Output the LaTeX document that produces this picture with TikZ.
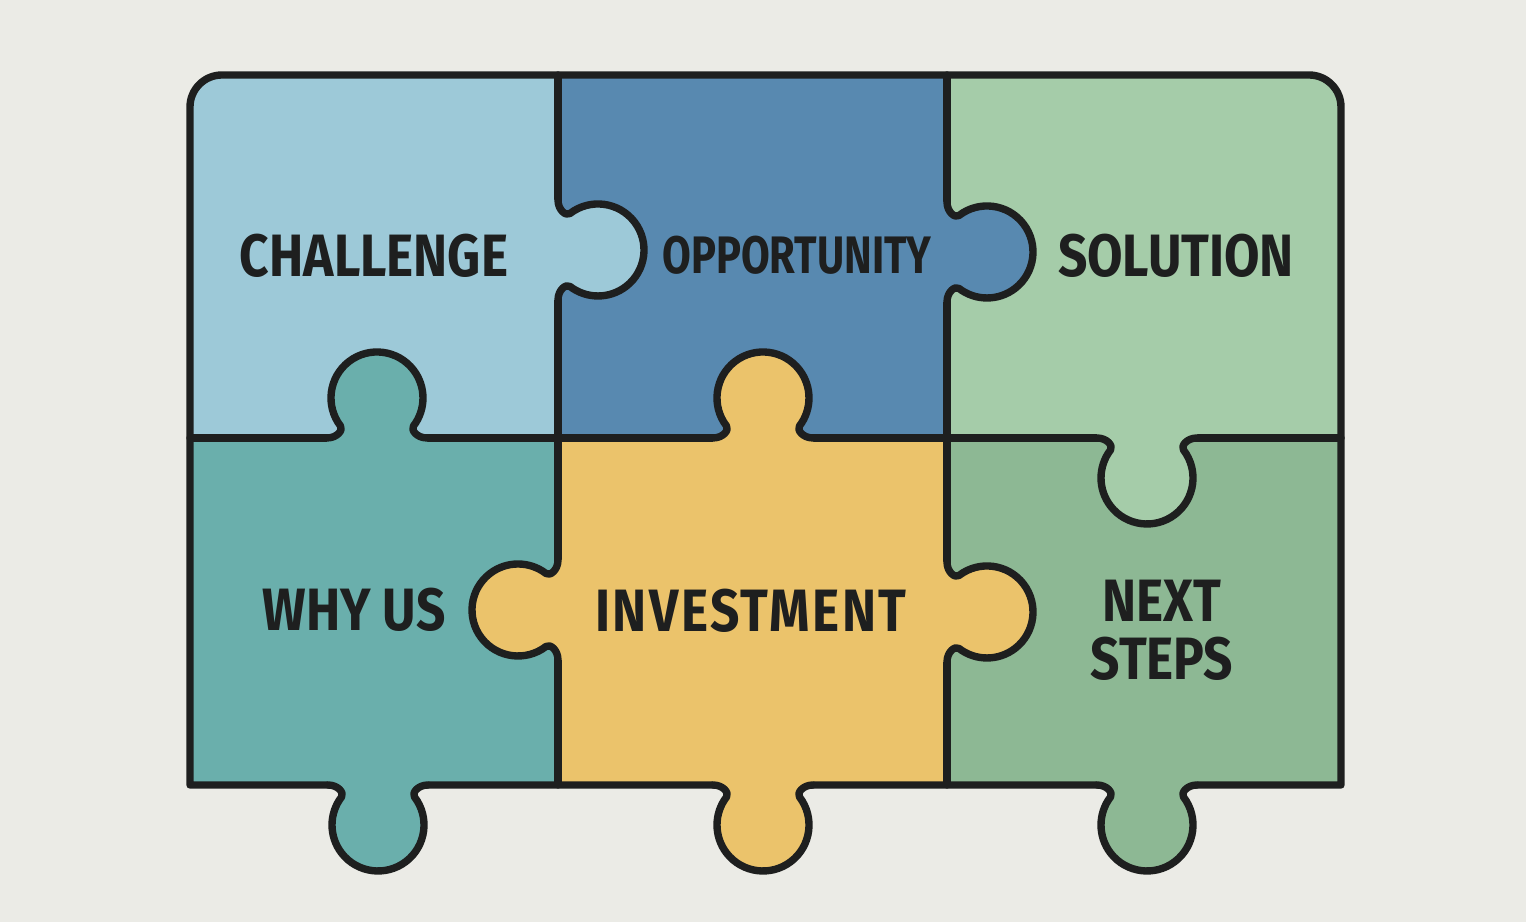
\documentclass[tikz,border=0pt]{standalone}
\usepackage{fontspec}
\usepackage{tikz}
\newfontfamily\piecefont[FakeStretch=0.86]{Fira Sans}
\newfontfamily\narrowfont[FakeStretch=0.79]{Fira Sans}

\definecolor{paper}{HTML}{EBEBE6}
\definecolor{ink}{HTML}{1E1F1F}
\definecolor{challenge}{HTML}{9DC9D8}
\definecolor{opportunity}{HTML}{5889B0}
\definecolor{solution}{HTML}{A5CCA9}
\definecolor{whyus}{HTML}{6AAFAC}
\definecolor{investment}{HTML}{EBC36B}
\definecolor{nextsteps}{HTML}{8DB894}

\tikzstyle{seam} = [draw=ink, line width=2.1pt, line join=round, line cap=round]
\tikzstyle{piecetext} = [text=ink, inner sep=0pt, font=\piecefont\bfseries\fontsize{17}{16.5}\selectfont]

\tikzset{
  knob/.pic={
    \fill[fill=#1] (-50,-6) -- (-50,0) .. controls (-40,0) and (-33.5,8) .. (-36.5,12)
      arc[start angle=217.5, end angle=-37.5, radius=46]
      .. controls (33.5,8) and (40,0) .. (50,0) -- (50,-6) -- cycle;
    \draw[seam] (-50,0) .. controls (-40,0) and (-33.5,8) .. (-36.5,12)
      arc[start angle=217.5, end angle=-37.5, radius=46]
      .. controls (33.5,8) and (40,0) .. (50,0);
  }
}

\begin{document}
\begin{tikzpicture}[x=0.01cm, y=0.01cm]
\useasboundingbox (0,0) rectangle (1526,922);
\fill[paper] (0,0) rectangle (1526,922);

% pieces
\fill[challenge] (190,484) -- (190,815) arc[start angle=180, end angle=90, radius=32] -- (558,847) -- (558,484) -- cycle;
\fill[opportunity] (558,484) rectangle (947,847);
\fill[solution] (947,484) -- (947,847) -- (1309,847) arc[start angle=90, end angle=0, radius=32] -- (1341,484) -- cycle;
\fill[whyus] (190,137) rectangle (558,484);
\fill[investment] (558,137) rectangle (947,484);
\fill[nextsteps] (947,137) rectangle (1341,484);

% seams
\draw[seam] (190,137) -- (190,815) arc[start angle=180, end angle=90, radius=32] -- (1309,847)
  arc[start angle=90, end angle=0, radius=32] -- (1341,137) -- cycle;
\draw[seam] (558,137) -- (558,847);
\draw[seam] (947,137) -- (947,847);
\draw[seam] (190,484) -- (1341,484);

% knobs
\foreach \x/\y/\r/\c in {558/672/-90/challenge, 377/484/0/whyus, 947/670/-90/opportunity,
  763/484/0/investment, 1147/484/180/solution, 558/312/90/investment, 947/310/-90/investment,
  378/137/180/whyus, 763/137/180/investment, 1147/137/180/nextsteps}
{
\pic[rotate=\r] at (\x,\y) {knob=\c};
}

% labels
\node[piecetext] (challengetext) at (374,666) {CHALLENGE};
\node[piecetext, font=\narrowfont\bfseries\fontsize{15}{16}\selectfont] (opportunitytext) at (797,667) {OPPORTUNITY};
\node[piecetext] (solutiontext) at (1176,666) {SOLUTION};
\node[piecetext] (whyustext) at (354,312) {WHY US};
\node[piecetext, font=\piecefont\bfseries\fontsize{17}{16.5}\selectfont\addfontfeature{LetterSpace=4}] (investmenttext) at (751,311) {INVESTMENT};
\node[piecetext, align=center] (nextstepstext) at (1162,292) {NEXT\\STEPS};
\end{tikzpicture}
\end{document}
